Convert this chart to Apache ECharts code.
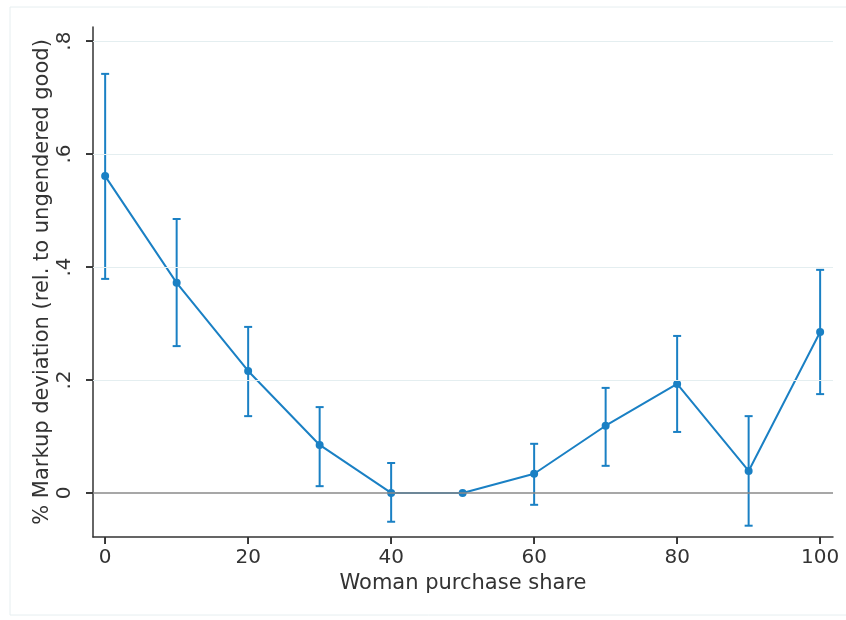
<!DOCTYPE html>
<html><head><meta charset="utf-8">
<script src="https://cdn.jsdelivr.net/npm/echarts@6/dist/echarts.min.js"></script>
<style>html,body{margin:0;padding:0;background:#fff}#c{width:846px;height:620px}</style>
</head><body><div id="c"></div>
<script>
const shares = [0, 10, 20, 30, 40, 50, 60, 70, 80, 90, 100];
const markup = [0.561, 0.372, 0.216, 0.085, 0.0, 0.0, 0.034, 0.119, 0.193, 0.039, 0.285];
const ciHigh = [0.742, 0.485, 0.294, 0.152, 0.053, null, 0.087, 0.186, 0.278, 0.136, 0.395];
const ciLow  = [0.379, 0.260, 0.136, 0.012, -0.051, null, -0.021, 0.048, 0.108, -0.058, 0.175];
const xTicks = [0, 20, 40, 60, 80, 100];
const yTicks = [0, 0.2, 0.4, 0.6, 0.8];
const yTickLabels = ['0', '.2', '.4', '.6', '.8'];
const gridLevels = [0.2, 0.4, 0.6, 0.8];

const color = '#1a80c4';
const font = 'DejaVu Sans';
const textColor = '#333';
const X_MIN = -1.7, X_MAX = 101.8, Y_MIN = -0.078, Y_MAX = 0.825;
const chart = echarts.init(document.getElementById('c'));
const errData = shares.map((s, i) => [s, ciLow[i], ciHigh[i]]).filter(d => d[1] !== null);
const xTickData = xTicks.map(v => [v, Y_MIN]);
const yTickData = yTicks.map(v => [X_MIN, v]);

function tickRenderer(isY) {
  return (params, api) => {
    const p = api.coord([api.value(0), api.value(1)]);
    const shape = isY ? {x1: p[0] - 7, y1: p[1], x2: p[0], y2: p[1]} : {x1: p[0], y1: p[1], x2: p[0], y2: p[1] + 7};
    return {type: 'line', shape: shape, style: {stroke: '#333', lineWidth: 1.6}};
  };
}

chart.setOption({
  animation: false,
  backgroundColor: '#fff',
  graphic: [{type: 'rect', shape: {x: 10, y: 7, width: 840, height: 608}, style: {fill: 'none', stroke: '#e6eef0', lineWidth: 1}, z: -1}],
  grid: {left: 93, right: 13, top: 27, bottom: 83},
  xAxis: {
    type: 'value', min: X_MIN, max: X_MAX,
    axisLine: {onZero: false, lineStyle: {color: '#333', width: 1.5}},
    axisTick: {show: true, customValues: xTicks, length: 7, lineStyle: {color: '#333', width: 1.6}},
    axisLabel: {customValues: xTicks, fontFamily: font, fontSize: 20, color: textColor, margin: 11},
    splitLine: {show: false},
    name: 'Woman purchase share', nameLocation: 'middle', nameGap: 35,
    nameTextStyle: {fontFamily: font, fontSize: 21, color: textColor}
  },
  yAxis: {
    type: 'value', min: Y_MIN, max: Y_MAX,
    axisLine: {show: true, onZero: false, lineStyle: {color: '#333', width: 1.5}},
    axisTick: {show: true, customValues: yTicks, length: 7, lineStyle: {color: '#333', width: 1.6}},
    axisLabel: {customValues: yTicks, rotate: 90, fontFamily: font, fontSize: 20, color: textColor, margin: 18,
      formatter: v => { const i = yTicks.findIndex(t => Math.abs(t - v) < 1e-6); return i >= 0 ? yTickLabels[i] : ''; }},
    splitLine: {show: false},
    name: '% Markup deviation (rel. to ungendered good)', nameLocation: 'middle', nameGap: 40, nameRotate: 90,
    nameMoveOverlap: false,
    nameTextStyle: {fontFamily: font, fontSize: 21, color: textColor}
  },
  series: [
    {
      type: 'line', data: [], silent: true,
      markLine: {symbol: 'none', silent: true, label: {show: false},
        data: gridLevels.map(v => ({yAxis: v, lineStyle: {color: '#e4eef0', width: 1, type: 'solid'}}))
          .concat([{yAxis: 0, lineStyle: {color: '#8a8a8a', width: 1.5, type: 'solid'}}])}
    },
    {type: 'custom', data: xTickData, z: 5, silent: true, clip: false, renderItem: tickRenderer(false)},
    {type: 'custom', data: yTickData, z: 5, silent: true, clip: false, renderItem: tickRenderer(true)},
    {
      type: 'custom', data: errData, z: 3,
      renderItem: (params, api) => {
        const x = api.value(0);
        const lo = api.coord([x, api.value(1)]);
        const hi = api.coord([x, api.value(2)]);
        const w = 4;
        const st = {stroke: color, lineWidth: 2};
        return {type: 'group', children: [
          {type: 'line', shape: {x1: lo[0], y1: lo[1], x2: hi[0], y2: hi[1]}, style: st},
          {type: 'line', shape: {x1: lo[0] - w, y1: lo[1], x2: lo[0] + w, y2: lo[1]}, style: st},
          {type: 'line', shape: {x1: hi[0] - w, y1: hi[1], x2: hi[0] + w, y2: hi[1]}, style: st}
        ]};
      }
    },
    {
      type: 'line', data: shares.map((s, i) => [s, markup[i]]), z: 4,
      symbol: 'circle', symbolSize: 8,
      lineStyle: {color: color, width: 2}, itemStyle: {color: color}
    }
  ]
});
</script>
</body></html>
